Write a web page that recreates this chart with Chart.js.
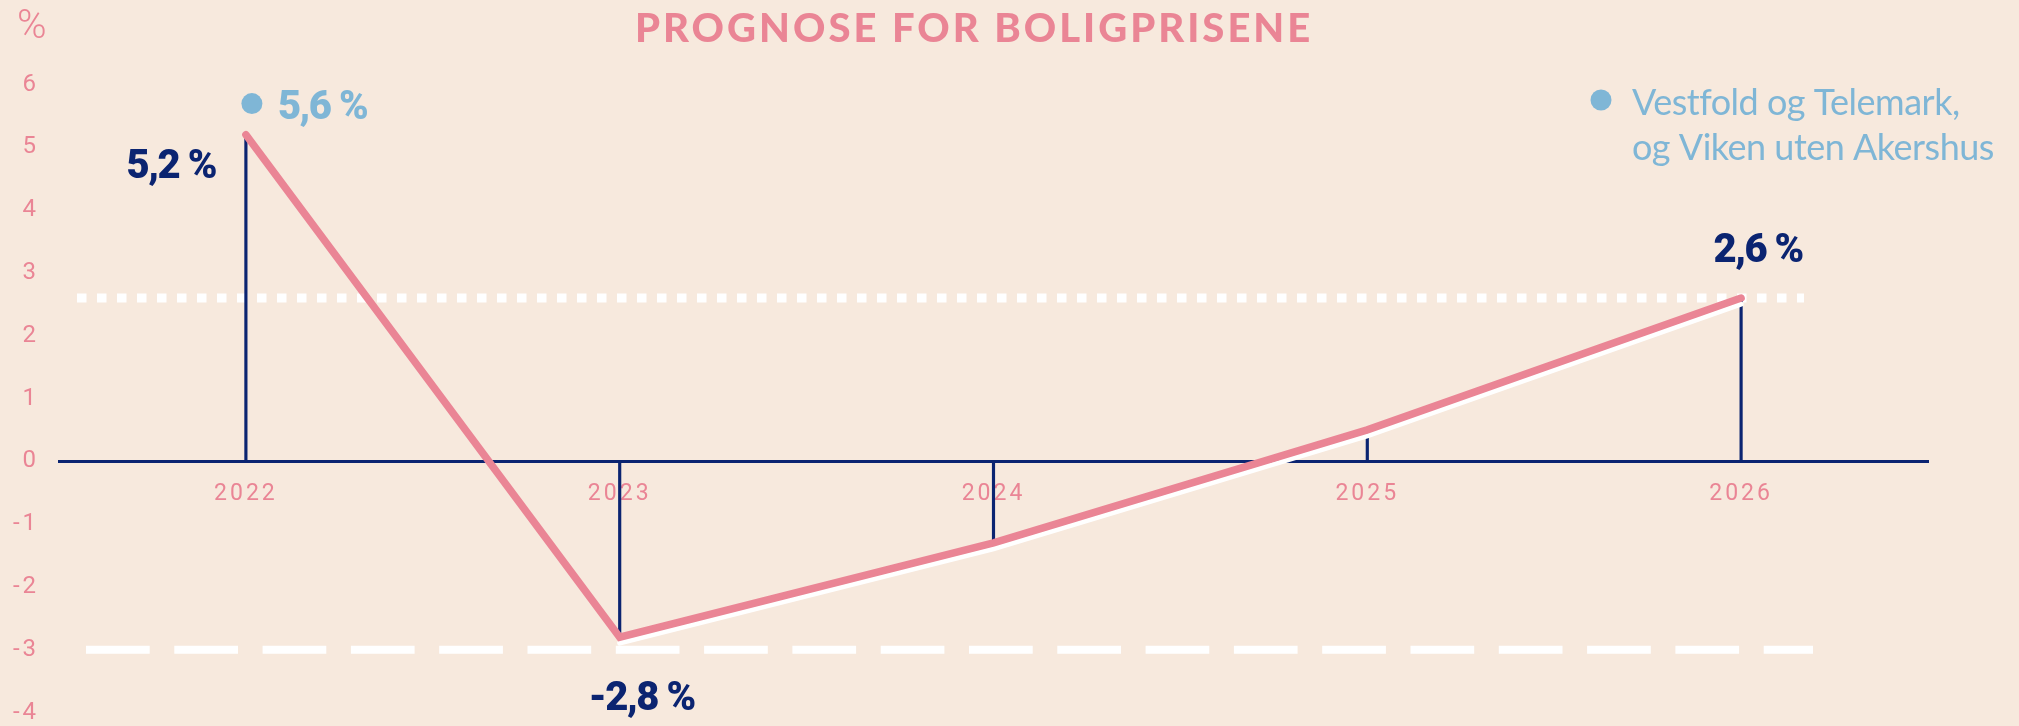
<!DOCTYPE html>
<html>
<head>
<meta charset="utf-8">
<script src="https://cdn.jsdelivr.net/npm/chart.js@4.4.0/dist/chart.umd.min.js"></script>
<style>
  html, body { margin: 0; padding: 0; background: #f7e9dd; }
  canvas { display: block; }
</style>
</head>
<body>
<canvas id="prognose" width="2019" height="726"></canvas>
<script>
// data
const years = ['2022', '2023', '2024', '2025', '2026']
const prognose = [5.2, -2.8, -1.3, 0.5, 2.6]
const region = [5.6, null, null, null, null]
const regionLabel = ['Vestfold og Telemark,', 'og Viken uten Akershus']
const yMin = -4
const yMax = 6
const dottedLine = 2.6
const dashedLine = -3
const title = 'PROGNOSE FOR BOLIGPRISENE'

const pink = '#ea8595'
const navy = '#0b2471'
const blue = '#7fb6d6'

// white "shadow" under the line, from 2023 and out
const shadow = prognose.map((v, i) => i === 0 ? null : v)

function pct(v) {
    return v.toFixed(1).replace('.', ',') + ' %'
}

const nudge = {
    id: 'nudge',
    beforeDatasetDraw(chart, args) {
        const ctx = chart.ctx
        ctx.save()
        if (args.index === 1) ctx.translate(0, 6)
        if (args.index === 3) ctx.translate(6, -6)
    },
    afterDatasetDraw(chart) {
        chart.ctx.restore()
    }
}

const refLines = {
    id: 'refLines',
    beforeDatasetsDraw(chart) {
        const ctx = chart.ctx
        const area = chart.chartArea
        const y = chart.scales.y
        ctx.save()
        ctx.strokeStyle = '#ffffff'
        ctx.lineCap = 'butt'

        ctx.lineWidth = 9
        ctx.setLineDash([9.5, 10.5])
        ctx.beginPath()
        ctx.moveTo(area.left + 18, y.getPixelForValue(dottedLine))
        ctx.lineTo(area.right - 124, y.getPixelForValue(dottedLine))
        ctx.stroke()

        ctx.lineWidth = 8
        ctx.setLineDash([63.7, 24.6])
        ctx.beginPath()
        ctx.moveTo(area.left + 27, y.getPixelForValue(dashedLine))
        ctx.lineTo(area.right - 115, y.getPixelForValue(dashedLine))
        ctx.stroke()
        ctx.restore()
    }
}

const spacing = {
    id: 'spacing',
    beforeDraw(chart) {
        chart.ctx.letterSpacing = '3px'
    }
}

const texts = {
    id: 'texts',
    afterDraw(chart) {
        const ctx = chart.ctx
        const x = chart.scales.x
        const y = chart.scales.y
        ctx.save()
        ctx.textBaseline = 'alphabetic'

        // title
        ctx.fillStyle = pink
        ctx.font = '900 40px Lato'
        ctx.letterSpacing = '3px'
        ctx.textAlign = 'left'
        ctx.fillText(title, 635, 42)

        // unit
        ctx.font = '300 40px Roboto'
        ctx.letterSpacing = '0px'
        ctx.fillText('%', 17, 38)

        // value labels
        ctx.fillStyle = navy
        ctx.font = '900 40px Roboto'
        ctx.letterSpacing = '-1.5px'
        prognose.forEach((v, i) => {
            const px = x.getPixelForValue(i)
            const py = y.getPixelForValue(v)
            if (i === 0) {
                ctx.textAlign = 'right'
                ctx.fillText(pct(v), px - 30, py + 43)
            } else if (i === 1) {
                ctx.textAlign = 'center'
                ctx.fillText(pct(v), px + 22, py + 73)
            } else if (i === prognose.length - 1) {
                ctx.textAlign = 'center'
                ctx.fillText(pct(v), px + 17, py - 36)
            }
        })

        // region value
        ctx.fillStyle = blue
        ctx.textAlign = 'left'
        region.forEach((v, i) => {
            if (v === null) return
            const px = x.getPixelForValue(i) + 6
            const py = y.getPixelForValue(v) - 6
            ctx.fillText(pct(v), px + 26, py + 15)
        })

        // legend
        ctx.beginPath()
        ctx.arc(1601, 100, 10.5, 0, Math.PI * 2)
        ctx.fill()
        ctx.font = '400 36px Lato'
        ctx.letterSpacing = '-0.5px'
        regionLabel.forEach((line, i) => {
            ctx.fillText(line, 1632, 115 + i * 45)
        })
        ctx.restore()
    }
}

const ctx = document.getElementById('prognose').getContext('2d')
new Chart(ctx, {
    data: {
        labels: years,
        datasets: [
            {
                type: 'line',
                label: 'Prognose',
                data: prognose,
                borderColor: pink,
                borderWidth: 7.5,
                borderCapStyle: 'round',
                pointRadius: 0,
                order: 1
            },
            {
                type: 'line',
                label: 'skygge',
                data: shadow,
                borderColor: '#ffffff',
                borderWidth: 5,
                borderCapStyle: 'round',
                pointRadius: 0,
                order: 2
            },
            {
                type: 'bar',
                label: 'stolpe',
                data: prognose,
                backgroundColor: navy,
                barThickness: 2.5,
                order: 3
            },
            {
                type: 'line',
                label: regionLabel.join(' '),
                data: region,
                showLine: false,
                pointRadius: 10.5,
                pointBackgroundColor: blue,
                pointBorderWidth: 0,
                order: 0
            }
        ]
    },
    options: {
        responsive: false,
        animation: false,
        layout: { padding: { top: 84.5, bottom: 13.5, left: 0, right: 91 } },
        plugins: {
            legend: { display: false },
            tooltip: { enabled: false }
        },
        scales: {
            x: {
                type: 'category',
                offset: true,
                position: { y: 0 },
                afterFit: scale => {
                    scale.height = 0
                    scale.paddingLeft = 0
                    scale.paddingRight = 0
                },
                grid: { display: false, drawTicks: false },
                border: { display: true, color: navy, width: 3 },
                ticks: {
                    color: pink,
                    padding: 19,
                    font: { family: 'Roboto', weight: 400, size: 23 }
                }
            },
            y: {
                type: 'linear',
                min: yMin,
                max: yMax,
                grid: { display: false, drawTicks: false },
                border: { display: false },
                afterFit: scale => {
                    scale.width = 59
                    scale.paddingTop = 0
                    scale.paddingBottom = 0
                },
                ticks: {
                    stepSize: 1,
                    color: pink,
                    padding: 20,
                    font: { family: 'Roboto', weight: 400, size: 24 }
                }
            }
        }
    },
    plugins: [spacing, nudge, refLines, texts]
})
</script>
</body>
</html>
